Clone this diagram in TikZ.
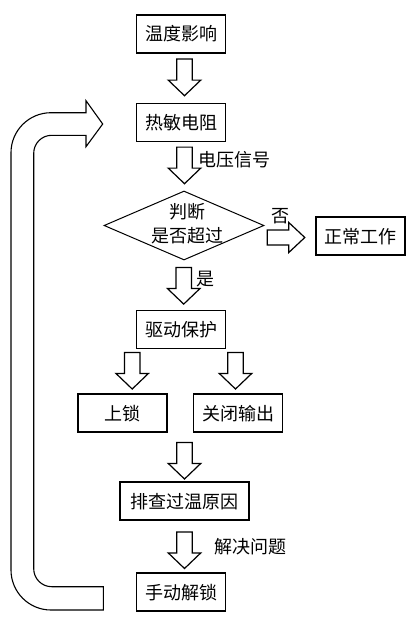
\documentclass[tikz,border=0pt]{standalone}
\usepackage{fontspec}
\newfontfamily\cjk{Noto Sans CJK SC}
\usetikzlibrary{shapes.geometric,calc}
\begin{document}
\begin{tikzpicture}[x=1pt,y=-1pt,
  box/.style={draw, line width=1.8pt, minimum width=89pt, minimum height=38pt, inner sep=0pt, font=\cjk\fontsize{18}{22}\selectfont},
  dia/.style={draw, diamond, line width=1pt, minimum width=160pt, minimum height=69pt, inner sep=0pt},
  txt/.style={inner sep=0pt, font=\cjk\fontsize{18}{23.3}\selectfont},
  arrowline/.style={draw, line width=1.2pt, fill=white, line join=miter},
  dnarrow/.pic={\path[arrowline] (-7.8,0) -- (7.8,0) -- (7.8,21) -- (16.3,21) -- (0,36.6) -- (-16.3,21) -- (-7.8,21) -- cycle;},
  rtarrow/.pic={\path[arrowline] (0,-7.5) -- (21.6,-7.5) -- (21.6,-15) -- (37.6,0) -- (21.6,15) -- (21.6,7.5) -- (0,7.5) -- cycle;}
]
\useasboundingbox (0,0) rectangle (415,618);

\node[box] (b1) at (181,34) {温度影响};
\node[box] (b2) at (181,122.5) {热敏电阻};
\node[dia] (d) at (184,225.5) {};
\node[txt, align=center] (dt) at (187.5,223.5) {判断\\是否超过};
\node[box] (ok) at (360.7,236.3) {正常工作};
\node[box] (b5) at (181,329.5) {驱动保护};
\node[box] (lk) at (122.8,413.3) {上锁};
\node[box] (off) at (238,413.3) {关闭输出};
\node[box, minimum width=129pt] (b8) at (184.5,501.3) {排查过温原因};
\node[box] (b9) at (181,592.2) {手动解锁};

\pic at ($(b1.south)+(3.5,5.2)$) {dnarrow};
\pic at ($(b2.south)+(3.5,4.7)$) {dnarrow};
\pic at ($(d.south)+(-0.3,7)$) {dnarrow};
\pic at ($(b5.south)+(-48.8,3)$) {dnarrow};
\pic at ($(b5.south)+(54.5,3)$) {dnarrow};
\pic at ($(b8.north)+(0,-39)$) {dnarrow};
\pic at ($(b8.south)+(0,10.7)$) {dnarrow};
\pic at ($(d.east)+(2.7,12)$) {rtarrow};

\node[txt, anchor=west] (l1) at (198,160) {电压信号};
\node[txt] (l2) at (280,216) {否};
\node[txt] (l3) at (205.5,279) {是};
\node[txt, anchor=west] (l4) at (214,547) {解决问题};

% loop-back block arrow
\draw[line width=1.1pt, fill=white, line join=miter]
  (103.3,610) -- (51,610) arc (90:180:40) -- (11,152.7) arc (180:270:40)
  -- (86,112.7) -- (86,100.7) -- (102.7,124) -- (86,146.7) -- (86,135.3)
  -- (51.7,135.3) arc (270:180:18) -- (33.7,568.7) arc (180:90:18)
  -- (103.3,586.7) -- cycle;
\end{tikzpicture}
\end{document}
